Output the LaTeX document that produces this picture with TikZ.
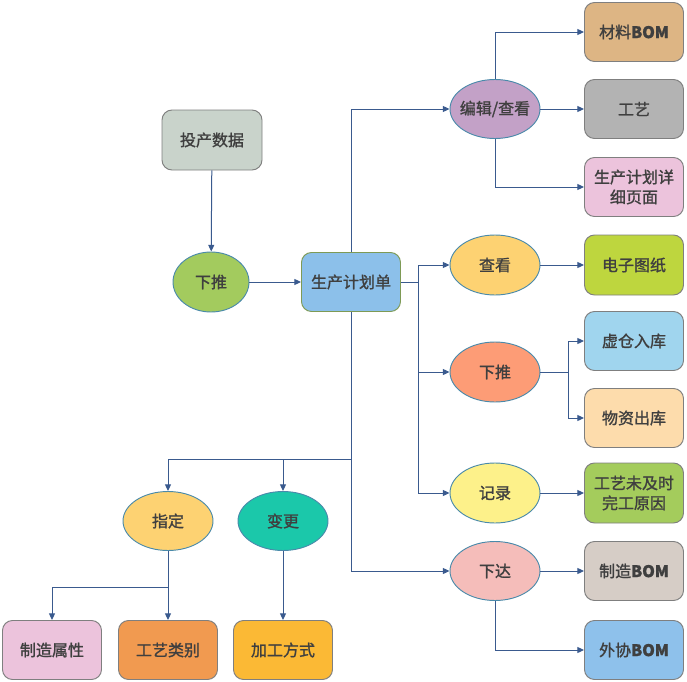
\documentclass[tikz,border=0pt]{standalone}
\usepackage{fontspec}
\newfontfamily\cjk[FakeBold=1.3]{Noto Sans CJK SC}
\usetikzlibrary{shapes.geometric,arrows.meta}
\definecolor{linec}{HTML}{3A5A8E}
\definecolor{txt}{HTML}{3F3F3F}
\definecolor{boxline}{HTML}{7F7F7F}
\definecolor{ellline}{HTML}{4A8AAA}
\definecolor{planline}{HTML}{7E9A55}
% fill colours
\definecolor{cTc}{HTML}{C9D3CB}
\definecolor{cLp}{HTML}{A3CB5E}
\definecolor{cPlan}{HTML}{8CC0EA}
\definecolor{cEdit}{HTML}{C3A1C7}
\definecolor{cView}{HTML}{FDD272}
\definecolor{cPush}{HTML}{FD9C76}
\definecolor{cRec}{HTML}{FDF18A}
\definecolor{cIssue}{HTML}{F5BDBA}
\definecolor{cMat}{HTML}{DDB584}
\definecolor{cProc}{HTML}{B3B3B3}
\definecolor{cDetail}{HTML}{ECC3DC}
\definecolor{cDraw}{HTML}{BED63E}
\definecolor{cVirt}{HTML}{A0D5EE}
\definecolor{cOut}{HTML}{FDDCAC}
\definecolor{cReason}{HTML}{A4CC5C}
\definecolor{cMbom}{HTML}{D6CDC6}
\definecolor{cObom}{HTML}{8EC1EB}
\definecolor{cChange}{HTML}{1BC8AA}
\definecolor{cType}{HTML}{F19A50}
\definecolor{cMethod}{HTML}{FBB935}
\tikzset{
  every node/.style={font=\cjk\fontsize{12}{15}\selectfont, text=txt, align=center, inner sep=0pt},
  rbox/.style={draw=boxline, line width=0.7pt, rounded corners=7.5pt, minimum width=74.25pt, minimum height=44.25pt},
  oval/.style={ellipse, draw=ellline, line width=0.7pt, minimum width=67.5pt, minimum height=44.25pt},
  arr/.style={draw=linec, line width=0.75pt, -{Triangle[length=5pt,width=4.5pt]}},
  ln/.style={draw=linec, line width=0.75pt},
}
\newcommand{\bom}{\textbf{BOM}}
\begin{document}
\begin{tikzpicture}[x=0.75pt, y=-0.75pt]
\useasboundingbox (0,0) rectangle (687,682);

% left chain
\node[rbox, fill=cTc, minimum width=75pt, minimum height=45pt] (tc) at (212,140) {投产数据};
\node[oval, fill=cLp, minimum width=57pt, minimum height=45pt] (lp) at (211,282) {下推};
\node[rbox, draw=planline, fill=cPlan] (plan) at (351,282) {生产计划单};

% middle column of actions
\node[oval, fill=cEdit, inner xsep=-10pt] (edit) at (495,109) {编辑/查看};
\node[oval, fill=cView, minimum height=45pt] (view) at (495,265) {查看};
\node[oval, fill=cPush, minimum height=45pt] (push) at (495,372) {下推};
\node[oval, fill=cRec, minimum height=45pt] (rec) at (495,493) {记录};
\node[oval, fill=cIssue] (issue) at (495,571) {下达};

% right column of results
\node[rbox, fill=cMat] (mat) at (634,32) {材料\bom};
\node[rbox, fill=cProc] (proc) at (634,109) {工艺};
\node[rbox, fill=cDetail] (detail) at (634,187) {生产计划详\\细页面};
\node[rbox, fill=cDraw, minimum height=45pt] (draw) at (634,265) {电子图纸};
\node[rbox, fill=cVirt] (virt) at (634,341) {虚仓入库};
\node[rbox, fill=cOut] (out) at (634,418) {物资出库};
\node[rbox, fill=cReason, minimum height=45pt] (reason) at (634,493) {工艺未及时\\完工原因};
\node[rbox, fill=cMbom] (mbom) at (634,571) {制造\bom};
\node[rbox, fill=cObom] (obom) at (634,650) {外协\bom};

% bottom branch
\node[oval, fill=cView] (assign) at (168,521) {指定};
\node[oval, fill=cChange] (change) at (283,521) {变更};
\node[rbox, fill=cDetail] (attr) at (52,650) {制造属性};
\node[rbox, fill=cType] (type) at (168,650) {工艺类别};
\node[rbox, fill=cMethod] (method) at (283,650) {加工方式};

% junction points
\coordinate (trunk) at (418,282);
\coordinate (pj) at (568,372);
\coordinate (bj) at (351,459);
\coordinate (aj) at (168,587);

% connectors
\draw[arr] (tc) -- (lp);
\draw[arr] (lp) -- (plan);
\draw[arr] (plan.north) |- (edit.west);
\draw[ln] (plan.east) -- (trunk);
\draw[arr] (trunk) |- (view.west);
\draw[arr] (trunk) |- (push.west);
\draw[arr] (trunk) |- (rec.west);
\draw[arr] (plan.south) |- (issue.west);

\draw[arr] (edit.north) |- (mat.west);
\draw[arr] (edit.east) -- (proc.west);
\draw[arr] (edit.south) |- (detail.west);
\draw[arr] (view.east) -- (draw.west);
\draw[ln] (push.east) -- (pj);
\draw[arr] (pj) |- (virt.west);
\draw[arr] (pj) |- (out.west);
\draw[arr] (rec.east) -- (reason.west);
\draw[arr] (issue.east) -- (mbom.west);
\draw[arr] (issue.south) |- (obom.west);

\draw[arr] (bj) -| (assign.north);
\draw[arr] (bj) -| (change.north);
\draw[ln] (assign.south) -- (aj);
\draw[arr] (aj) -| (attr.north);
\draw[arr] (aj) -- (type.north);
\draw[arr] (change.south) -- (method.north);
\end{tikzpicture}
\end{document}
